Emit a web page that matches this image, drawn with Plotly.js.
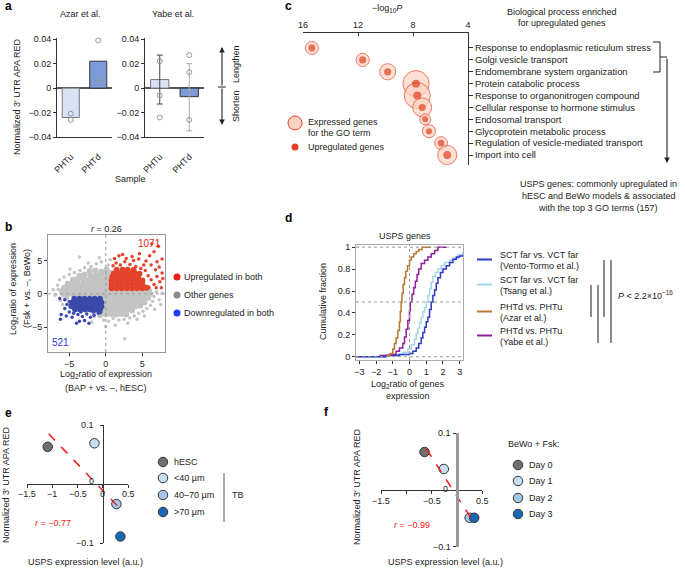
<!DOCTYPE html>
<html>
<head>
<meta charset="utf-8">
<script src="https://cdn.plot.ly/plotly-3.0.1.min.js"></script>
<style>
  body { margin: 0; background: #fff; }
  #fig { width: 685px; height: 569px; }
</style>
</head>
<body>
<div id="fig"></div>
<script>
// ---- panel a: 3' UTR APA RED per sample ----
const aSamples = ['PHTu', 'PHTd'];
const azarMean = [-0.024, 0.022];
const azarReps = [[-0.021, -0.026], [0.039, 0.007]];
const yabeMean = [0.007, -0.007];
const yabeErrUp = [0.020, 0.027];
const yabeErrDown = [0.020, 0.028];
const yabeReps = [[0.022, -0.006, -0.024], [0.027, 0.013, -0.026]];

// ---- panel b: log2 ratios, BAP hESC (x) vs Fsk BeWo (y) ----
const bGrayCore = [
  [-2.2,3.4],[-1.4,3.5],[-0.6,3.3],[0.1,3.6],
  [-3.6,2.7],[-2.9,2.9],[-2.1,2.8],[-1.4,2.7],[-0.7,2.9],[0.0,2.8],[0.5,3.1],
  [-4.5,2.1],[-3.8,2.3],[-3.1,2.2],[-2.4,2.1],[-1.7,2.3],[-1.0,2.2],[-0.3,2.1],[0.3,2.3],
  [-5.2,1.5],[-4.5,1.7],[-3.8,1.6],[-3.1,1.5],[-2.4,1.7],[-1.7,1.6],[-1.0,1.5],[-0.3,1.7],[0.4,1.6],
  [-5.7,0.9],[-5.0,1.1],[-4.3,1.0],[-3.6,0.9],[-2.9,1.1],[-2.2,1.0],[-1.5,0.9],[-0.8,1.1],[-0.1,1.0],[0.5,0.9],
  [-6.0,0.4],[-5.3,0.5],[-4.6,0.4],[-3.9,0.5],[-3.2,0.4],[-2.5,0.5],[-1.8,0.4],[-1.1,0.5],[-0.4,0.4],[0.3,0.5],
  [1.0,0.4],[1.7,0.5],[2.4,0.4],[3.1,0.5],[3.8,0.4],[4.5,0.5],[5.2,0.4],[5.9,0.5],
  [-5.8,-0.1],[-5.1,0.0],[-4.4,-0.1],[-3.7,0.0],[-3.0,-0.1],[-2.3,0.0],[-1.6,-0.1],[-0.9,0.0],[-0.2,-0.1],
  [0.5,0.0],[1.2,-0.1],[1.9,0.0],[2.6,-0.1],[3.3,0.0],[4.0,-0.1],[4.7,0.0],[5.4,-0.1],[6.1,0.0],
  [-5.4,-0.6],[-0.5,-0.7],[0.2,-0.6],[0.9,-0.7],[1.6,-0.6],[2.3,-0.7],[3.0,-0.6],[3.7,-0.7],[4.4,-0.6],[5.1,-0.7],[5.8,-0.6],
  [-0.3,-1.3],[0.4,-1.2],[1.1,-1.3],[1.8,-1.2],[2.5,-1.3],[3.2,-1.2],[3.9,-1.3],[4.6,-1.2],[5.3,-1.3],
  [-0.2,-1.9],[0.5,-1.8],[1.2,-1.9],[1.9,-1.8],[2.6,-1.9],[3.3,-1.8],[4.0,-1.9],[4.7,-1.8],
  [-1.2,-2.6],[-0.6,-2.5],[0.1,-2.4],[0.8,-2.5],[1.5,-2.4],[2.2,-2.5],[2.9,-2.4],[3.6,-2.5],
  [-0.8,-3.2],[0.0,-3.1],[0.7,-3.0],[1.4,-3.1],[2.1,-3.0],[2.8,-3.1]
];
const bGrayEdge = [
  [-6.6,1.3],[-6.3,2.1],[-5.7,2.5],[-5.0,2.9],[-4.3,3.2],[-3.5,3.5],[-2.9,3.9],[-2.0,4.1],[-1.3,4.5],
  [-3.6,5.5],[-0.6,4.8],[0.3,4.3],[0.6,5.1],[-0.9,5.4],[-6.9,-0.2],[-6.5,0.7],[-6.2,-1.0],[-5.9,-1.6],
  [6.6,-0.4],[6.9,0.3],[6.4,-1.1],[6.1,-1.7],[5.6,-2.2],[5.1,-2.6],[4.5,-2.9],[3.9,-3.3],[3.3,-3.6],
  [2.5,-3.8],[1.8,-3.9],[1.0,-3.7],[0.4,-4.1],[-0.3,-3.9],[-1.6,-3.4],[2.6,-6.7],[1.3,-4.7],[4.3,-3.8],
  [7.3,-0.9],[7.7,0.1],[-4.9,3.7],[-2.4,4.6],[-7.2,0.6],[5.3,-3.3],[6.7,-2.3],[7.5,-1.6],[-1.9,-4.2],
  [0.0,-4.9],[3.0,-4.4]
];
const bUpCore = [
  [0.8,0.85],[1.5,0.85],[2.2,0.85],[2.9,0.85],[3.6,0.85],[4.3,0.85],[5.0,0.85],[5.6,0.9],
  [0.8,1.4],[1.5,1.4],[2.2,1.4],[2.9,1.4],[3.6,1.4],[4.3,1.4],[5.0,1.45],
  [0.8,1.95],[1.5,1.95],[2.2,1.95],[2.9,1.95],[3.6,1.95],[4.3,1.95],[5.0,2.0],
  [0.9,2.5],[1.6,2.5],[2.3,2.5],[3.0,2.5],[3.7,2.5],[4.4,2.55],
  [1.1,3.05],[1.8,3.05],[2.5,3.05],[3.2,3.05],[3.9,3.1],[4.6,3.0],
  [1.5,3.6],[2.3,3.6],[3.0,3.6],[3.8,3.55]
];
const bUpEdge = [
  [1.0,4.2],[1.4,4.6],[2.0,4.3],[2.6,4.8],[3.3,4.4],[4.1,4.1],[4.8,3.8],[5.4,3.5],[5.8,2.7],[6.2,2.1],
  [6.6,1.4],[7.0,2.6],[7.4,1.8],[7.7,3.1],[6.8,3.6],[7.3,4.0],[6.2,4.3],[5.5,4.9],[4.5,5.2],[3.6,5.6],
  [2.8,5.3],[1.8,5.7],[2.3,5.9],[1.2,5.3],[7.0,4.8],[7.7,5.2],[6.0,5.7],[6.6,6.3],[7.2,7.1],[6.3,7.5],
  [4.6,6.0],[7.8,2.3],[7.6,0.9],[6.9,0.9],[5.9,1.0],[3.8,5.0],[5.2,4.3]
];
const bDownCore = [
  [-4.3,-0.75],[-3.6,-0.75],[-2.9,-0.75],[-2.2,-0.75],[-1.5,-0.75],[-0.8,-0.75],
  [-4.6,-1.3],[-3.9,-1.3],[-3.2,-1.3],[-2.5,-1.3],[-1.8,-1.3],[-1.1,-1.3],[-0.6,-1.3],
  [-4.7,-1.85],[-4.0,-1.85],[-3.3,-1.85],[-2.6,-1.85],[-1.9,-1.85],[-1.2,-1.85],[-0.6,-1.85],
  [-4.2,-2.35],[-3.5,-2.35],[-2.8,-2.35],[-2.1,-2.35],[-1.4,-2.35],[-0.8,-2.35]
];
const bDownEdge = [
  [-6.3,-0.7],[-5.6,-0.9],[-5.3,-1.6],[-5.6,-2.2],[-6.1,-3.1],[-6.2,-3.8],[-5.0,-2.7],[-4.4,-2.9],
  [-3.8,-3.1],[-3.2,-3.4],[-2.6,-3.0],[-2.1,-3.5],[-1.6,-3.2],[-1.0,-2.9],[-4.6,-3.5],[-3.6,-4.1],
  [-2.9,-4.0],[-2.3,-4.4],[-4.0,-4.4],[-5.4,-3.3],[-5.0,-1.2],[-0.7,-2.8],[-1.7,-2.7],[-3.4,-2.7]
];

// ---- panel c: GO terms ----
const goTerms = [
  'Response to endoplasmic reticulum stress', 'Golgi vesicle transport',
  'Endomembrane system organization', 'Protein catabolic process',
  'Response to organonitrogen compound', 'Cellular response to hormone stimulus',
  'Endosomal transport', 'Glycoprotein metabolic process',
  'Regulation of vesicle-mediated transport', 'Import into cell'
];
const goLogP = [15.35, 11.66, 9.84, 7.78, 7.69, 7.33, 7.11, 6.84, 5.96, 5.51];
const goExpressed = [170, 175, 260, 680, 670, 360, 120, 170, 165, 365];
const goUp = [48, 50, 52, 62, 64, 50, 36, 38, 46, 62];

// ---- panel d: cumulative fraction of USPS genes ----
const vtX = [-3.2,-1.4,-0.6,0.0,0.2,0.4,0.55,0.7,0.8,0.9,1.0,1.1,1.2,1.3,1.4,1.5,1.6,1.7,1.85,2.0,2.2,2.4,2.6,2.8,3.0,3.2];
const vtY = [0.0,0.01,0.02,0.03,0.05,0.08,0.12,0.17,0.22,0.27,0.32,0.36,0.43,0.5,0.56,0.61,0.67,0.72,0.77,0.8,0.83,0.86,0.89,0.91,0.92,0.93];
const tsX = [-3.2,-1.5,-0.8,-0.4,-0.1,0.1,0.3,0.4,0.5,0.6,0.7,0.8,0.9,1.0,1.1,1.2,1.3,1.4,1.55,1.7,1.9,2.1,2.4,2.6,2.9,3.2];
const tsY = [0.0,0.01,0.02,0.04,0.07,0.11,0.16,0.21,0.26,0.31,0.36,0.41,0.45,0.5,0.56,0.62,0.68,0.73,0.77,0.8,0.83,0.86,0.88,0.9,0.93,0.96];
const azX = [-1.35,-1.15,-1.0,-0.9,-0.8,-0.7,-0.6,-0.55,-0.5,-0.45,-0.38,-0.3,-0.22,-0.12,0.0,0.1,0.25,0.4,0.55,0.75,1.3];
const azY = [0.01,0.03,0.07,0.12,0.17,0.24,0.32,0.41,0.5,0.58,0.66,0.72,0.78,0.83,0.88,0.91,0.94,0.96,0.98,1.0,1.0];
const yaX = [-1.8,-1.2,-0.8,-0.6,-0.4,-0.3,-0.2,-0.1,0.0,0.05,0.15,0.25,0.35,0.45,0.55,0.7,0.9,1.1,1.3,1.5,1.7,2.2];
const yaY = [0.01,0.02,0.05,0.08,0.12,0.18,0.25,0.33,0.42,0.5,0.57,0.63,0.69,0.75,0.8,0.85,0.88,0.91,0.94,0.97,1.0,1.0];

// ---- panel e: tissue TB ----
const eGroups = ['hESC', '<40 µm', '40–70 µm', '>70 µm'];
const eUsps = [-1.09, -0.165, 0.27, 0.35];
const eRed = [0.063, 0.069, -0.034, -0.089];
const eFitX = [-1.07, 0.37];
const eFitY = [0.085, -0.044];

// ---- panel f: BeWo + Fsk time course ----
const fDays = ['Day 0', 'Day 1', 'Day 2', 'Day 3'];
const fUsps = [-0.64, -0.26, 0.25, 0.34];
const fRed = [0.067, 0.037, -0.049, -0.049];
const fFitX = [-0.6, 0.28];
const fFitY = [0.072, -0.05];

// styles
const FONT = 'Liberation Sans, Arial, Helvetica, sans-serif';
const INK = '#222';
const blues = ['#707070', '#c6def2', '#a3c6e6', '#1767b5'];
const X = p => p / 685;
const Y = p => 1 - p / 569;

function txt(x, y, text, opts) {
  return Object.assign({ xref: 'paper', yref: 'paper', x: X(x), y: Y(y), text: text,
    showarrow: false, xanchor: 'left', yanchor: 'middle' }, opts || {});
}
function seg(x0, y0, x1, y1, color, width, dash) {
  return { type: 'line', xref: 'paper', yref: 'paper', x0: X(x0), y0: Y(y0), x1: X(x1), y1: Y(y1),
    line: { color: color, width: width || 1, dash: dash || 'solid' } };
}
function dot(cx, cy, d, fill, edge) {
  return { type: 'circle', xref: 'paper', yref: 'paper', xsizemode: 'pixel', ysizemode: 'pixel',
    xanchor: X(cx), yanchor: Y(cy), x0: -d / 2, x1: d / 2, y0: -d / 2, y1: d / 2,
    fillcolor: fill, line: { color: edge || fill, width: edge ? 1 : 0 } };
}
function arrow(x, y, ax, ay) {
  return { xref: 'paper', yref: 'paper', x: X(x), y: Y(y), ax: ax, ay: ay, text: '',
    showarrow: true, arrowhead: 2, arrowsize: 1, arrowwidth: 1.1, arrowcolor: INK };
}
const pts = (arr, i) => arr.map(p => p[i]);

const traces = [];

// panel a bars
const aFill = ['#d8e2f5', '#7d9bd6'];
const aEdge = ['#777', '#333'];
const errCol = ['#444', '#aaa'];
aSamples.forEach((s, i) => {
  traces.push({ type: 'bar', x: [s], y: [azarMean[i]], xaxis: 'x', yaxis: 'y', width: 0.62,
    marker: { color: aFill[i], line: { color: aEdge[i], width: 1 } } });
  traces.push({ type: 'bar', x: [s], y: [yabeMean[i]], xaxis: 'x2', yaxis: 'y2', width: 0.62,
    marker: { color: aFill[i], line: { color: aEdge[i], width: 1 } },
    error_y: { type: 'data', symmetric: false, array: [yabeErrUp[i]], arrayminus: [yabeErrDown[i]],
      color: errCol[i], thickness: 1, width: 3 } });
});
const repTrace = (reps, xa, ya) => ({
  type: 'scatter', mode: 'markers', xaxis: xa, yaxis: ya, cliponaxis: false,
  x: reps.flatMap((r, i) => r.map(() => aSamples[i])), y: reps.flat(),
  marker: { symbol: 'circle-open', size: 5, color: '#999', line: { width: 1 } } });
traces.push(repTrace(azarReps, 'x', 'y'));
traces.push(repTrace(yabeReps, 'x2', 'y2'));

// panel b scatter
const sc = (arr, color, size) => ({ type: 'scatter', mode: 'markers', xaxis: 'x3', yaxis: 'y3',
  x: pts(arr, 0), y: pts(arr, 1), marker: { color: color, size: size, line: { width: 0 } } });
traces.push(sc(bGrayEdge, '#c4c4c4', 3.5));
traces.push(sc(bGrayCore, '#c4c4c4', 6));
traces.push(sc(bUpEdge, '#e2432a', 3.5));
traces.push(sc(bUpCore, '#e2432a', 6));
traces.push(sc(bDownEdge, '#3a4aaa', 3.5));
traces.push(sc(bDownCore, '#3a4aaa', 6));

// panel c bubbles (area-scaled)
const goIdx = goTerms.map((_, i) => i);
traces.push({ type: 'scatter', mode: 'markers', xaxis: 'x4', yaxis: 'y4', x: goLogP, y: goIdx,
  marker: { size: goExpressed, sizemode: 'area', sizeref: 2, color: '#fcd3c2',
    line: { color: '#e8402a', width: 1 } } });
traces.push({ type: 'scatter', mode: 'markers', xaxis: 'x4', yaxis: 'y4', x: goLogP, y: goIdx,
  marker: { size: goUp, sizemode: 'area', sizeref: 2, color: '#e0401e', line: { width: 0 } } });

// panel d cdfs
const cdf = (x, y, color) => ({ type: 'scatter', mode: 'lines', xaxis: 'x5', yaxis: 'y5', x: x, y: y,
  line: { color: color, width: 1.5, shape: 'hv' } });
traces.push(cdf(tsX, tsY, '#a4d6ec'));
traces.push(cdf(vtX, vtY, '#2b3bc4'));
traces.push(cdf(yaX, yaY, '#8e1f9b'));
traces.push(cdf(azX, azY, '#b8772f'));

// panel e, f
traces.push({ type: 'scatter', mode: 'markers', xaxis: 'x6', yaxis: 'y6', x: eUsps, y: eRed, cliponaxis: false,
  marker: { size: 9.5, color: blues, line: { color: '#333', width: 1 } } });
traces.push({ type: 'scatter', mode: 'lines', xaxis: 'x6', yaxis: 'y6', x: eFitX, y: eFitY,
  line: { color: '#f02020', width: 1.5, dash: 'dash' } });
traces.push({ type: 'scatter', mode: 'markers', xaxis: 'x7', yaxis: 'y7', x: fUsps, y: fRed, cliponaxis: false,
  marker: { size: 9.5, color: blues, line: { color: '#333', width: 1 } } });
traces.push({ type: 'scatter', mode: 'lines', xaxis: 'x7', yaxis: 'y7', x: fFitX, y: fFitY,
  line: { color: '#f02020', width: 1.5, dash: 'dash' } });

// axes
const base = { showgrid: false, zeroline: false, tickfont: { size: 9, color: INK }, ticklen: 3,
  tickcolor: '#333', linecolor: '#333', linewidth: 1 };
const ax = o => Object.assign({}, base, o);
const minus = v => String(v).replace('-', '−');
const aTicks = [-0.04, -0.02, 0, 0.02, 0.04];

const layout = {
  width: 685, height: 569, autosize: false, showlegend: false,
  margin: { l: 0, r: 0, t: 0, b: 0 },
  paper_bgcolor: '#fff', plot_bgcolor: 'rgba(0,0,0,0)',
  font: { family: FONT, size: 9, color: INK },
  barmode: 'overlay',
  xaxis: ax({ domain: [X(57), X(112)], type: 'category', categoryarray: aSamples, range: [-0.5, 1.5],
    anchor: 'y', ticks: '', tickangle: -45, ticklabelstandoff: 10 }),
  yaxis: ax({ domain: [Y(137), Y(38)], range: [-0.04, 0.041], anchor: 'x', showline: true, ticks: 'outside',
    tickvals: aTicks, ticktext: aTicks.map(minus), zeroline: true, zerolinecolor: '#555', zerolinewidth: 1.5 }),
  xaxis2: ax({ domain: [X(145), X(204)], type: 'category', categoryarray: aSamples, range: [-0.5, 1.5],
    anchor: 'y2', ticks: '', tickangle: -45, ticklabelstandoff: 10 }),
  yaxis2: ax({ domain: [Y(137), Y(38)], range: [-0.04, 0.041], anchor: 'x2', showline: true, ticks: 'outside',
    tickvals: aTicks, ticktext: aTicks.map(minus), zeroline: true, zerolinecolor: '#555', zerolinewidth: 1.5 }),
  xaxis3: ax({ domain: [X(48), X(165)], range: [-7.9, 8.1], anchor: 'y3', showline: true, mirror: true,
    linecolor: '#999', ticks: 'outside', tickvals: [-5, 0, 5], ticktext: ['−5', '0', '5'] }),
  yaxis3: ax({ domain: [Y(352), Y(235)], range: [-8.7, 8.8], anchor: 'x3', showline: true, mirror: true,
    linecolor: '#999', ticks: 'outside', tickvals: [-5, 0, 5], ticktext: ['−5', '0', '5'] }),
  xaxis4: ax({ domain: [X(303), X(468)], range: [16, 4], side: 'top', anchor: 'y4', showline: true,
    ticks: 'inside', tickvals: [16, 12, 8, 4] }),
  yaxis4: ax({ domain: [Y(165), Y(33)], range: [9.84, -1.26], side: 'right', anchor: 'x4', showline: true,
    ticks: 'outside', ticklen: 4, tickvals: goIdx, ticktext: goTerms, tickfont: { size: 9.4, color: INK } }),
  xaxis5: ax({ domain: [X(356), X(463)], range: [-3.2, 3.2], anchor: 'y5', showline: true, mirror: true,
    linecolor: '#aaa', ticks: 'outside', tickvals: [-3, -2, -1, 0, 1, 2, 3],
    ticktext: ['−3', '−2', '−1', '0', '1', '2', '3'] }),
  yaxis5: ax({ domain: [Y(360), Y(245)], range: [-0.03, 1.02], anchor: 'x5', showline: true, mirror: true,
    linecolor: '#aaa', ticks: 'outside', tickvals: [0, 0.2, 0.4, 0.6, 0.8, 1] }),
  xaxis6: ax({ domain: [X(27), X(128)], range: [-1.5, 0.5], anchor: 'free', position: Y(484), showline: true,
    ticks: 'outside', tickvals: [-1.5, -1, -0.5, 0, 0.5], showticklabels: false }),
  yaxis6: ax({ domain: [Y(543), Y(425)], range: [-0.1, 0.1], anchor: 'free', position: X(102.75), showline: true,
    ticks: 'outside', tickvals: [-0.1, 0.1], showticklabels: false }),
  xaxis7: ax({ domain: [X(381), X(482.3)], range: [-1.5, 0.5], anchor: 'free', position: Y(490), showline: true,
    ticks: 'outside', tickvals: [-1.5, -1, -0.5, 0.5], showticklabels: false }),
  yaxis7: ax({ domain: [Y(546.7), Y(433.3)], range: [-0.1, 0.1], anchor: 'free', position: X(457.3), showline: true,
    linecolor: '#999', linewidth: 2.5, ticks: 'outside', tickvals: [-0.1, 0.1], showticklabels: false }),
  shapes: [],
  annotations: []
};

const S = layout.shapes, A = layout.annotations;
const bold = { font: { size: 12, color: '#000' } };

// panel labels
A.push(txt(3, 6, '<b>a</b>', bold), txt(3, 227, '<b>b</b>', bold), txt(283, 6, '<b>c</b>', bold),
  txt(283, 218, '<b>d</b>', bold), txt(3, 413, '<b>e</b>', bold), txt(322, 412, '<b>f</b>', bold));

// panel a text and arrow
A.push(txt(80, 14, 'Azar et al.', { xanchor: 'center' }), txt(173, 14, 'Yabe et al.', { xanchor: 'center' }),
  txt(130, 179, 'Sample', { xanchor: 'center' }),
  txt(17, 97, 'Normalized 3′ UTR APA RED', { xanchor: 'center', textangle: -90 }),
  txt(236, 64, 'Lengthen', { xanchor: 'center', textangle: -90 }),
  txt(236, 106, 'Shorten', { xanchor: 'center', textangle: -90 }),
  arrow(222, 47, 0, 40), arrow(222, 125, 0, -38));
S.push(seg(218, 87, 226, 87, INK, 1));

// panel b text, guides, legend
S.push({ type: 'line', xref: 'x3', yref: 'y3 domain', x0: 0, x1: 0, y0: 0, y1: 1, line: { color: '#999', width: 1, dash: 'dot' } },
  { type: 'line', xref: 'x3 domain', yref: 'y3', x0: 0, x1: 1, y0: 0, y1: 0, line: { color: '#999', width: 1, dash: 'dot' } });
A.push(txt(106, 229, '<i>r</i> = 0.26', { xanchor: 'center' }),
  txt(163, 243, '1071', { xanchor: 'right', font: { size: 10, color: '#e8261c' } }),
  txt(50, 342, '521', { font: { size: 10, color: '#2a36d8' } }),
  txt(13, 289, 'Log<sub>2</sub>ratio of expression', { xanchor: 'center', textangle: -90 }),
  txt(27, 289, '(Fsk + vs. –, BeWo)', { xanchor: 'center', textangle: -90 }),
  txt(106, 374, 'Log<sub>2</sub>ratio of expression', { xanchor: 'center' }),
  txt(106, 388, '(BAP + vs. –, hESC)', { xanchor: 'center' }),
  txt(182, 277, 'Upregulated in both'), txt(182, 295, 'Other genes'), txt(182, 313, 'Downregulated in both'));
S.push(dot(177, 277, 7, '#f01c14'), dot(177, 295, 7, '#8c8c8c'), dot(177, 313, 7, '#1f3cf2'));

// panel c text, legend, bracket
A.push(txt(387, 9, '−log<sub>10</sub><i>P</i>', { xanchor: 'center' }),
  txt(562, 12, 'Biological process enriched', { xanchor: 'center' }),
  txt(562, 23, 'for upregulated genes', { xanchor: 'center' }),
  txt(306, 122, 'Expressed genes'), txt(306, 133, 'for the GO term'), txt(306, 147, 'Upregulated genes'),
  txt(598, 184, 'USPS genes: commonly upregulated in', { xanchor: 'center' }),
  txt(598, 196, 'hESC and BeWo models & associated', { xanchor: 'center' }),
  txt(598, 208, 'with the top 3 GO terms (157)', { xanchor: 'center' }),
  arrow(667, 163, 0, -106));
S.push(dot(295, 123, 14, '#fcd3c2', '#e8402a'), dot(295, 147, 7, '#e0401e'),
  { type: 'path', xref: 'paper', yref: 'paper', line: { color: INK, width: 1 },
    path: `M ${X(653)},${Y(42)} L ${X(660)},${Y(42)} L ${X(660)},${Y(72)} L ${X(653)},${Y(72)}` },
  seg(660, 57, 667, 57, INK, 1));

// panel d guides, legend, P bars
['0', '0.5', '1'].forEach(v => S.push({ type: 'line', xref: 'x5 domain', yref: 'y5', x0: 0, x1: 1, y0: +v, y1: +v,
  line: { color: '#999', width: 1, dash: 'dot' } }));
S.push({ type: 'line', xref: 'x5', yref: 'y5 domain', x0: 0, x1: 0, y0: 0, y1: 1, line: { color: '#999', width: 1, dash: 'dot' } });
A.push(txt(405, 236, 'USPS genes', { xanchor: 'center' }),
  txt(323, 302, 'Cumulative fraction', { xanchor: 'center', textangle: -90 }),
  txt(408, 384, 'Log<sub>2</sub>ratio of genes', { xanchor: 'center' }),
  txt(408, 396, 'expression', { xanchor: 'center' }));
const dLegend = [['SCT far vs. VCT far', '(Vento-Tormo et al.)', '#2b3bc4', 255],
  ['SCT far vs. VCT far', '(Tsang et al.)', '#a4d6ec', 280],
  ['PHTd vs. PHTu', '(Azar et al.)', '#b8772f', 307],
  ['PHTd vs. PHTu', '(Yabe et al.)', '#8e1f9b', 331]];
dLegend.forEach(([l1, l2, c, y]) => {
  A.push(txt(498, y, l1), txt(498, y + 11, l2));
  S.push(seg(477, y + 4.5, 492, y + 4.5, c, 2));
});
S.push(seg(591, 285, 591, 317, '#666', 1.5), seg(598, 285, 598, 343, '#666', 1.5),
  seg(604, 260, 604, 317, '#666', 1.5), seg(611, 260, 611, 343, '#666', 1.5));
A.push(txt(616, 295, '<i>P</i> < 2.2×10<sup>−16</sup>'));

// tick labels for the crossing axes of e and f
const xLab = (xa, v, y, t) => ({ xref: xa, yref: 'paper', x: v, y: Y(y), text: t, showarrow: false,
  xanchor: 'center', yanchor: 'middle' });
const yLab = (ya, x, v, t, dy) => ({ xref: 'paper', yref: ya, x: X(x), y: v, yshift: dy || 0, text: t,
  showarrow: false, xanchor: 'right', yanchor: 'middle' });
[[-1.5, '−1.5'], [-1, '−1'], [-0.5, '−0.5'], [0, '0'], [0.5, '0.5']].forEach(([v, t]) => A.push(xLab('x6', v, 494, t)));
A.push(yLab('y6', 96, 0.1, '0.1'), yLab('y6', 96, 0, '0', 3), yLab('y6', 96, -0.1, '−0.1'));
[[-1.5, '−1.5'], [-0.5, '−0.5'], [0.5, '0.5']].forEach(([v, t]) => A.push(xLab('x7', v, 501, t)));
A.push(yLab('y7', 453, 0.1, '0.1'), yLab('y7', 450, 0, '0', 1), yLab('y7', 453, -0.1, '−0.1'));

// panel e text, legend
A.push(txt(53, 523, '<i>r</i> = −0.77', { xanchor: 'center', font: { color: '#f02020', size: 9 } }),
  txt(6, 485, 'Normalized 3′ UTR APA RED', { xanchor: 'center', textangle: -90 }),
  txt(85, 562, 'USPS expression level (a.u.)', { xanchor: 'center' }),
  txt(230, 495, 'TB'));
eGroups.forEach((g, i) => {
  const y = [462, 478, 495, 512][i];
  S.push(dot(163, y, 9.5, blues[i], '#333'));
  A.push(txt(172, y, g));
});
S.push(seg(224, 473, 224, 522, '#555', 1));

// panel f text, legend
A.push(txt(412, 525, '<i>r</i> = −0.99', { xanchor: 'center', font: { color: '#f02020', size: 9 } }),
  txt(357, 487, 'Normalized 3′ UTR APA RED', { xanchor: 'center', textangle: -90 }),
  txt(445, 562, 'USPS expression level (a.u.)', { xanchor: 'center' }),
  txt(506, 444, 'BeWo + Fsk:'));
fDays.forEach((d, i) => {
  const y = [465, 481, 498, 514][i];
  S.push(dot(518, y, 9.5, blues[i], '#333'));
  A.push(txt(527, y, d));
});

Plotly.newPlot('fig', traces, layout, { displayModeBar: false, staticPlot: true });
</script>
</body>
</html>
